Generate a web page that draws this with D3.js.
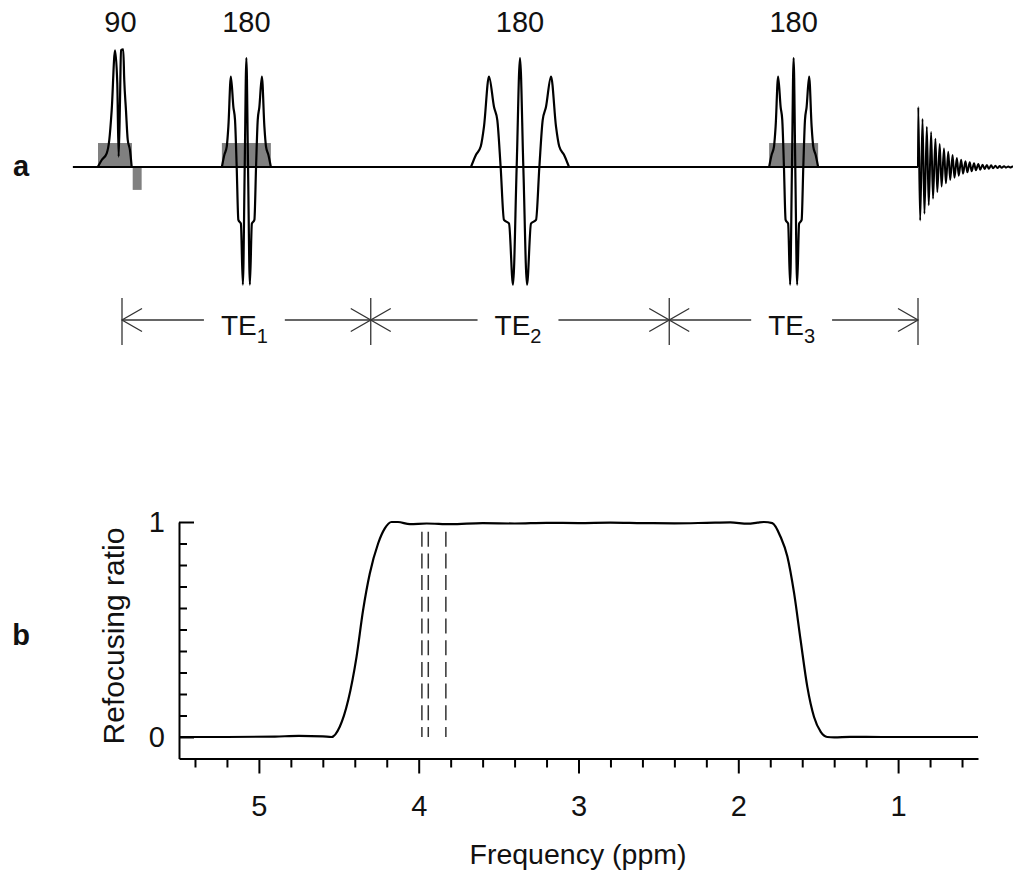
<!DOCTYPE html>
<html>
<style>
    body { margin: 0; background: #fff; }
    svg text { font-family: "Liberation Sans", Arial, sans-serif; fill: #111; }
    .axis path, .axis line { stroke: #000; stroke-width: 2; }
    .axis text { font-size: 29px; font-family: "Liberation Sans", Arial, sans-serif; }
</style>
<body>
<svg id="viz" width="1013" height="873"></svg>
<script src="https://cdnjs.cloudflare.com/ajax/libs/d3/7.8.5/d3.min.js"></script>
<script>
    // ---- panel a: pulse sequence (time in ms, amplitude relative to the 180 peak)
    var pulseLabels = ['90', '180', '180', '180'];
    var pulseTimes = [0, 10, 32, 54];
    var pulseHalfWidths = [0, 1.97, 3.94, 1.97];
    var teMarks = [0, 20, 44, 64];
    var teSubs = ['1', '2', '3'];

    // 180 refocusing pulse, u in [-1, 1] of its half-width
    var refocusShape = [
        [-1.0, 0], [-0.9, 0.11], [-0.8, 0.19], [-0.735, 0.37], [-0.633, 0.83],
        [-0.53, 0.55], [-0.463, 0.43], [-0.395, 0], [-0.327, -0.486], [-0.224, -0.52],
        [-0.143, -1.08], [-0.068, 0], [0, 1.0], [0.068, 0], [0.143, -1.08],
        [0.224, -0.52], [0.327, -0.486], [0.395, 0], [0.463, 0.43], [0.53, 0.55],
        [0.633, 0.83], [0.735, 0.37], [0.8, 0.19], [0.9, 0.11], [1.0, 0]
    ];

    // 90 excitation pulse, offset in ms from t = 0
    var excitePulse = [
        [-1.95, 0], [-1.63, 0.064], [-1.23, 0.126], [-1.02, 0.25], [-0.83, 0.52],
        [-0.56, 1.07], [-0.38, 0.77], [-0.27, 0.095], [-0.16, 0.61], [-0.08, 1.07],
        [0.10, 1.08], [0.18, 0.80], [0.32, 0.52], [0.46, 0.25], [0.64, 0.156], [0.78, 0]
    ];

    // gray gradient blocks [t0, t1, a0, a1]
    var gradBlocks = [
        [-1.93, 0.80, 0, 0.22],
        [0.86, 1.58, -0.21, 0],
        [8.03, 11.97, 0, 0.22],
        [52.03, 55.97, 0, 0.22]
    ];

    // FID peak heights (positive / negative half cycles)
    var fidStart = 64;
    var fidPeriod = 0.345;
    var fidTop = [0.55, 0.44, 0.37, 0.32, 0.26, 0.21, 0.17, 0.14, 0.11, 0.083, 0.067, 0.052,
                  0.043, 0.034, 0.028, 0.021, 0.018, 0.015, 0.012, 0.009, 0.007, 0.005, 0.004];
    var fidBottom = [0.49, 0.43, 0.35, 0.29, 0.23, 0.18, 0.15, 0.12, 0.098, 0.08, 0.061, 0.049,
                     0.039, 0.03, 0.025, 0.018, 0.016, 0.012, 0.01, 0.008, 0.006, 0.004, 0.003];

    // ---- panel b: refocusing profile
    var ppm = [5.5, 5.2, 4.9, 4.75, 4.6, 4.546, 4.494, 4.441, 4.389, 4.348, 4.306, 4.254,
               4.212, 4.17, 4.13, 4.055, 3.95, 3.8, 3.6, 3.4, 3.2, 3.0, 2.8, 2.6, 2.4,
               2.2, 2.05, 1.94, 1.88, 1.84, 1.787, 1.735, 1.693, 1.651, 1.61, 1.568,
               1.526, 1.484, 1.443, 1.40, 1.3, 1.1, 0.8, 0.5];
    var refocus = [0, 0, 0.002, 0.005, 0.003, 0, 0.048, 0.172, 0.373, 0.59, 0.76, 0.9,
                   0.97, 1.0, 1.0, 0.99, 0.993, 0.99, 0.995, 0.993, 0.996, 0.995, 0.997, 0.995, 0.994,
                   0.996, 0.998, 0.992, 0.997, 1.0, 0.995, 0.93, 0.84, 0.67, 0.45, 0.233,
                   0.093, 0.024, 0, -0.002, 0.001, 0, 0, 0];
    var dashedPpm = [3.98, 3.94, 3.83];
    var dashedTop = 0.955;
    var majorFreq = [5, 4, 3, 2, 1];
    var minorFreq = [5.4, 5.2, 4.8, 4.6, 4.4, 4.2, 3.8, 3.6, 3.4, 3.2, 2.8, 2.6, 2.4, 2.2,
                     1.8, 1.6, 1.4, 1.2, 0.8, 0.6];
    var minorRatio = [0.1, 0.2, 0.3, 0.4, 0.5, 0.6, 0.7, 0.8, 0.9];

    var svg = d3.select('#viz');
    var grayFill = '#808080';

    var xT = d3.scaleLinear().domain([0, 64]).range([122, 918]);
    var yA = d3.scaleLinear().domain([0, 1]).range([167, 58]);

    var pulseLine = d3.line()
        .x(function(d) { return xT(d[0]); })
        .y(function(d) { return yA(d[1]); })
        .curve(d3.curveMonotoneX);

    svg.append('text')
        .attr('x', 21).attr('y', 176)
        .attr('text-anchor', 'middle')
        .style('font-size', '29px').style('font-weight', 'bold')
        .text('a');

    // gray blocks first
    svg.selectAll('rect.grad')
        .data(gradBlocks)
        .enter().append('rect')
        .attr('class', 'grad')
        .attr('x', function(d) { return xT(d[0]); })
        .attr('width', function(d) { return xT(d[1]) - xT(d[0]); })
        .attr('y', function(d) { return yA(d[3]); })
        .attr('height', function(d) { return yA(d[2]) - yA(d[3]); })
        .attr('fill', grayFill);

    // baseline
    svg.append('line')
        .attr('x1', xT(-3.95)).attr('x2', xT(fidStart))
        .attr('y1', yA(0)).attr('y2', yA(0))
        .attr('stroke', '#000').attr('stroke-width', 2);

    // 90 pulse
    svg.append('path')
        .datum(excitePulse.map(function(p) { return [pulseTimes[0] + p[0], p[1]]; }))
        .attr('d', pulseLine)
        .attr('fill', 'none').attr('stroke', '#000').attr('stroke-width', 2.2);

    // 180 pulses
    pulseTimes.slice(1).forEach(function(tc, i) {
        var hw = pulseHalfWidths[i + 1];
        svg.append('path')
            .datum(refocusShape.map(function(p) { return [tc + p[0] * hw, p[1]]; }))
            .attr('d', pulseLine)
            .attr('fill', 'none').attr('stroke', '#000').attr('stroke-width', 2.2);
    });

    // FID
    var fidPts = [[fidStart, 0]];
    fidTop.forEach(function(a, k) {
        fidPts.push([fidStart + k * fidPeriod + 0.02, a]);
        fidPts.push([fidStart + k * fidPeriod + fidPeriod / 2, -fidBottom[k]]);
    });
    svg.append('path')
        .datum(fidPts)
        .attr('d', pulseLine)
        .attr('fill', 'none').attr('stroke', '#000').attr('stroke-width', 2);

    // pulse labels
    svg.selectAll('text.plabel')
        .data(pulseLabels)
        .enter().append('text')
        .attr('class', 'plabel')
        .attr('x', function(d, i) { return xT(pulseTimes[i]) + (i === 0 ? -1.5 : 0); })
        .attr('y', 32)
        .attr('text-anchor', 'middle')
        .style('font-size', '29px')
        .text(function(d) { return d; });

    // TE annotation
    var teY = 320, annColor = '#333';
    teMarks.forEach(function(t) {
        svg.append('line')
            .attr('x1', xT(t)).attr('x2', xT(t))
            .attr('y1', 298).attr('y2', 345)
            .attr('stroke', annColor).attr('stroke-width', 1.3);
    });
    teSubs.forEach(function(s, i) {
        var xa = xT(teMarks[i]), xb = xT(teMarks[i + 1]);
        var lbl = svg.append('text')
            .attr('x', (xa + xb) / 2 - 2).attr('y', 335)
            .attr('text-anchor', 'middle')
            .style('font-size', '28px');
        lbl.append('tspan').text('TE');
        lbl.append('tspan').attr('dy', 8).style('font-size', '20px').text(s);
        var bb = lbl.node().getBBox();
        var g = svg.append('g')
            .attr('stroke', annColor).attr('stroke-width', 1.3).attr('fill', 'none');
        g.append('line').attr('x1', xa).attr('x2', bb.x - 17).attr('y1', teY).attr('y2', teY);
        g.append('line').attr('x1', bb.x + bb.width + 17).attr('x2', xb).attr('y1', teY).attr('y2', teY);
        g.append('path').attr('d', 'M' + (xa + 20) + ',' + (teY - 11.5) + 'L' + xa + ',' + teY + 'L' + (xa + 20) + ',' + (teY + 11.5));
        g.append('path').attr('d', 'M' + (xb - 20) + ',' + (teY - 11.5) + 'L' + xb + ',' + teY + 'L' + (xb - 20) + ',' + (teY + 11.5));
    });

    // ---- panel b
    var xF = d3.scaleLinear().domain([5.5, 0.5]).range([179, 978]);
    var yR = d3.scaleLinear().domain([-0.1, 1]).range([758.5, 522]);

    svg.append('text')
        .attr('x', 21).attr('y', 645)
        .attr('text-anchor', 'middle')
        .style('font-size', '29px').style('font-weight', 'bold')
        .text('b');

    svg.append('g').attr('class', 'axis')
        .attr('transform', 'translate(0,' + yR(-0.1) + ')')
        .call(d3.axisBottom(xF).tickValues(minorFreq).tickSize(9).tickSizeOuter(0).tickFormat(''));
    svg.append('g').attr('class', 'axis')
        .attr('transform', 'translate(0,' + yR(-0.1) + ')')
        .call(d3.axisBottom(xF).tickValues(majorFreq).tickSize(15).tickSizeOuter(0).tickPadding(22).tickFormat(d3.format('d')))
        .select('.domain').remove();

    svg.append('g').attr('class', 'axis')
        .attr('transform', 'translate(' + xF(5.5) + ',0)')
        .call(d3.axisRight(yR).tickValues(minorRatio).tickSize(8).tickSizeOuter(0).tickFormat(''));
    var yMaj = svg.append('g').attr('class', 'axis')
        .attr('transform', 'translate(' + xF(5.5) + ',0)');
    yMaj.call(d3.axisRight(yR).tickValues([0, 1]).tickSize(15).tickSizeOuter(0).tickFormat(''))
        .select('.domain').remove();
    svg.append('g').attr('class', 'axis')
        .attr('transform', 'translate(' + xF(5.5) + ',0)')
        .call(d3.axisLeft(yR).tickValues([0, 1]).tickSize(0).tickPadding(14).tickFormat(d3.format('d')))
        .select('.domain').remove();

    // dashed lines
    svg.selectAll('line.dash')
        .data(dashedPpm)
        .enter().append('line')
        .attr('class', 'dash')
        .attr('x1', function(d) { return xF(d); }).attr('x2', function(d) { return xF(d); })
        .attr('y1', yR(dashedTop)).attr('y2', yR(0))
        .attr('stroke', '#333').attr('stroke-width', 1.5)
        .attr('stroke-dasharray', '15,6.7');

    var profile = ppm.map(function(p, i) { return [p, refocus[i]]; });
    svg.append('path')
        .datum(profile)
        .attr('d', d3.line()
            .x(function(d) { return xF(d[0]); })
            .y(function(d) { return yR(d[1]); })
            .curve(d3.curveMonotoneX))
        .attr('fill', 'none').attr('stroke', '#000').attr('stroke-width', 2.2);

    svg.append('text')
        .attr('transform', 'translate(124,636) rotate(-90)')
        .attr('text-anchor', 'middle')
        .style('font-size', '30px')
        .text('Refocusing ratio');

    svg.append('text')
        .attr('x', 578).attr('y', 864)
        .attr('text-anchor', 'middle')
        .style('font-size', '28.5px')
        .text('Frequency (ppm)');
</script>
</body>
</html>
